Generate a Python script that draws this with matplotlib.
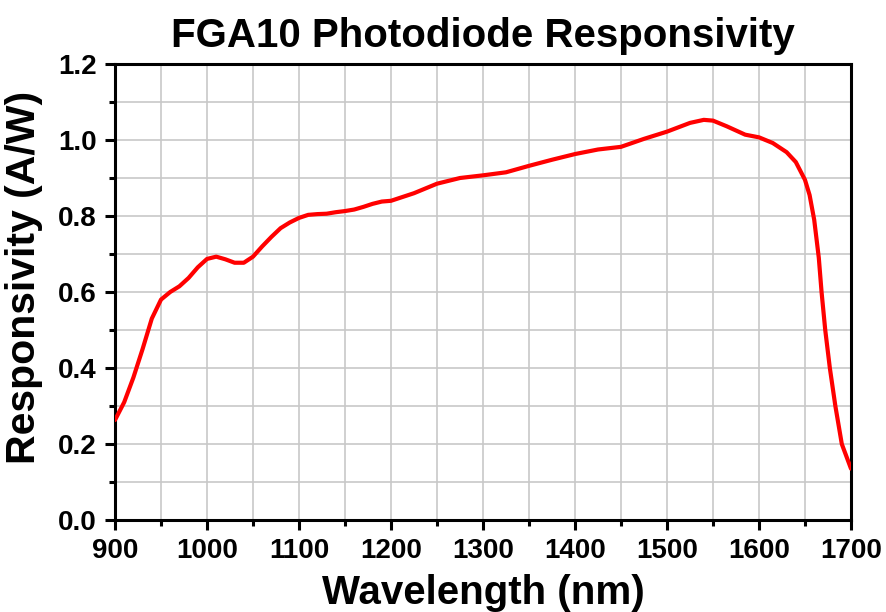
import numpy as np
import matplotlib
matplotlib.use("Agg")
import matplotlib.pyplot as plt
from matplotlib.ticker import MultipleLocator

plt.rcParams["font.family"] = ["Liberation Sans", "DejaVu Sans"]
plt.rcParams["font.weight"] = "bold"

wavelength = [900, 910, 920, 930, 940, 950, 960, 970, 980, 990,
              1000, 1010, 1020, 1030, 1040, 1050, 1060, 1070, 1080, 1090,
              1100, 1110, 1120, 1130, 1140, 1150, 1160, 1170, 1180, 1190,
              1200, 1225, 1250, 1275, 1300, 1325, 1350, 1375, 1400, 1425,
              1450, 1475, 1500, 1525, 1540, 1550, 1565, 1585, 1600, 1615,
              1630, 1640, 1650, 1655, 1660, 1665, 1668, 1672, 1677, 1683,
              1690, 1700]
responsivity = [0.263, 0.31, 0.375, 0.45, 0.53, 0.58, 0.60, 0.615, 0.637, 0.665,
                0.687, 0.693, 0.686, 0.677, 0.677, 0.693, 0.72, 0.745, 0.768, 0.783,
                0.795, 0.803, 0.805, 0.806, 0.81, 0.813, 0.817, 0.824, 0.832, 0.838,
                0.84, 0.86, 0.885, 0.90, 0.907, 0.915, 0.932, 0.948, 0.963, 0.975,
                0.982, 1.003, 1.022, 1.045, 1.053, 1.051, 1.036, 1.014, 1.007, 0.992,
                0.968, 0.942, 0.895, 0.855, 0.79, 0.69, 0.60, 0.50, 0.40, 0.30,
                0.20, 0.135]

fig = plt.figure(figsize=(8.87, 6.12), dpi=100)
ax = fig.add_axes([115 / 887, 92 / 612, 736 / 887, 456 / 612])

ax.plot(wavelength, responsivity, color="red", linewidth=3, zorder=3,
        solid_joinstyle="round", solid_capstyle="round")

ax.set_xlim(900, 1700)
ax.set_ylim(0, 1.2)
ax.xaxis.set_major_locator(MultipleLocator(100))
ax.xaxis.set_minor_locator(MultipleLocator(50))
ax.yaxis.set_major_locator(MultipleLocator(0.2))
ax.yaxis.set_minor_locator(MultipleLocator(0.1))
ax.yaxis.set_major_formatter(lambda v, p: f"{v:.1f}")

ax.grid(which="both", color="#c8c8c8", linewidth=1.2)
ax.set_axisbelow(True)

for s in ax.spines.values():
    s.set_linewidth(2.2)
ax.tick_params(which="major", direction="out", length=7, width=2.2,
               labelsize=20, pad=6)
ax.tick_params(which="minor", direction="out", length=4, width=2.2)

ax.set_title("FGA10 Photodiode Responsivity", fontsize=29, fontweight="bold", pad=12)
ax.set_xlabel("Wavelength (nm)", fontsize=29, fontweight="bold", labelpad=7)
ax.set_ylabel("Responsivity (A/W)", fontsize=29.5, fontweight="bold")
ax.yaxis.set_label_coords(-0.098, 0.533)

fig.savefig("out.png", dpi=100)
